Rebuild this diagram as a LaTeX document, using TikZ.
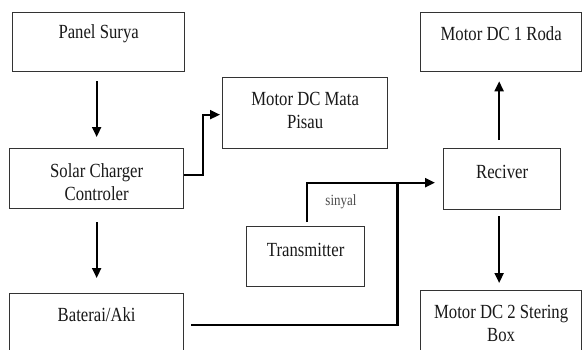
\documentclass[tikz,border=0pt]{standalone}
\usepackage{fontspec}
\setmainfont{Liberation Serif}
\usetikzlibrary{arrows.meta,calc}
\newcommand{\stt}[1]{\scalebox{1}[1.2]{#1}}
\begin{document}
\begin{tikzpicture}[x=1pt,y=-1pt,
  box/.style={draw=black!80,line width=1.3pt,rectangle,inner sep=0pt,anchor=north west},
  txt/.style={inner sep=0pt,align=center,text=black!90,font=\fontsize{16.7}{23}\selectfont},
  arr/.style={draw=black,line width=2pt,-{Triangle[length=10pt,width=9pt]}},
  conn/.style={draw=black,line width=2.3pt}]
\clip (0,0) rectangle (582,349);
\fill[white] (0,0) rectangle (582,349);
% boxes
\node[box,minimum width=172pt,minimum height=59pt] (ps) at (12,12) {};
\node[box,minimum width=165pt,minimum height=71pt] (mp) at (222,77) {};
\node[box,minimum width=174pt,minimum height=60pt] (sc) at (9,148) {};
\node[box,minimum width=174pt,minimum height=80pt] (ba) at (9,293) {};
\node[box,minimum width=118pt,minimum height=60pt] (tr) at (246,226) {};
\node[box,minimum width=117pt,minimum height=61pt] (rc) at (443,148) {};
\node[box,minimum width=161pt,minimum height=59pt] (m1) at (420,12) {};
\node[box,minimum width=161pt,minimum height=80pt] (m2) at (420,290) {};
% texts
\node[txt] (pst) at ($(ps.north)+(0,22)$) {\stt{Panel Surya}};
\node[txt] (mpt) at ($(mp.north)+(0,33)$) {\stt{Motor DC Mata}\\\stt{Pisau}};
\node[txt] (sct) at ($(sc.north)+(0,34)$) {\stt{Solar Charger}\\\stt{Controler}};
\node[txt] (bat) at ($(ba.north)+(0,22)$) {\stt{Baterai/Aki}};
\node[txt] (trt) at ($(tr.north)+(0,24)$) {\stt{Transmitter}};
\node[txt] (rct) at ($(rc.north)+(0,24)$) {\stt{Reciver}};
\node[txt] (m1t) at ($(m1.north)+(0,22)$) {\stt{Motor DC 1 Roda}};
\node[txt] (m2t) at ($(m2.north)+(0,33)$) {\stt{Motor DC 2 Stering}\\\stt{Box}};
\node[inner sep=0pt,text=black!70,font=\fontsize{13}{15}\selectfont] (sig) at (341,202) {\stt{sinyal}};
% connectors
\draw[arr] ($(ps.south -| sc.north)+(0,9)$) -- ($(sc.north)+(0,-11)$);
\draw[arr] ($(sc.east)+(0,-4)$) -- ++(19,0) |- ($(mp.west)+(-2,1.5)$);
\draw[arr] ($(sc.south)+(0,13)$) -- ($(ba.north)+(0,-15)$);
\coordinate (bs) at ($(ba.north east)+(7,32)$);
\coordinate (jn) at ($(tr.east)+(32,-74)$);
\draw[conn,line width=2.8pt] (bs) -| (jn);
\draw[arr,line width=2.3pt] (jn) -- ($(rc.west)+(-8,3.5)$);
\draw[conn] ($(tr.north west)+(61,-4)$) |- (jn);
\draw[arr] ($(rc.north)+(-3,-8)$) -- ($(rc.north |- m1.south)+(-3,9)$);
\draw[arr] ($(rc.south)+(-3,6)$) -- ($(rc.south |- m2.north)+(-3,-7)$);
\end{tikzpicture}
\end{document}
